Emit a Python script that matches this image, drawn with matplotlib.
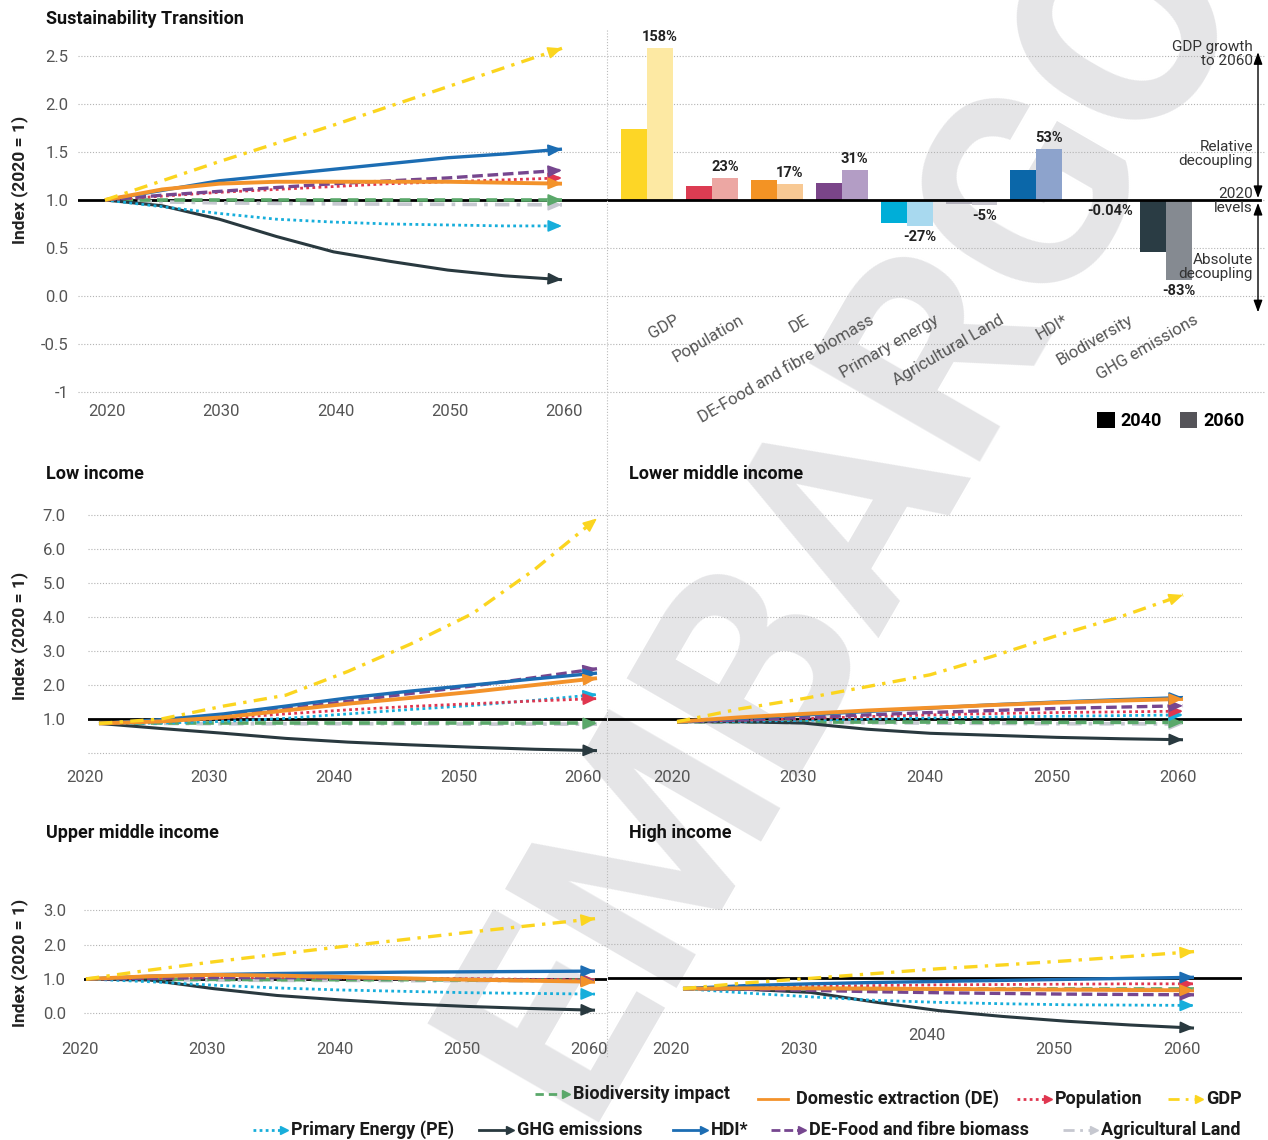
import matplotlib
matplotlib.use("Agg")
import matplotlib.pyplot as plt
from matplotlib.lines import Line2D
from matplotlib.patches import Patch
from matplotlib.transforms import ScaledTranslation, blended_transform_factory

plt.rcParams['font.family'] = ['Roboto', 'DejaVu Sans']

W, H = 1268, 1140

years = [2020, 2025, 2030, 2035, 2040, 2045, 2050, 2055, 2060]
decades = [2020, 2030, 2040, 2050, 2060]

# Sustainability Transition (world)
st_gdp = [1.00, 1.20, 1.40, 1.59, 1.78, 1.98, 2.18, 2.38, 2.58]
st_hdi = [1.00, 1.10, 1.20, 1.26, 1.32, 1.38, 1.44, 1.48, 1.53]
st_de = [1.00, 1.11, 1.17, 1.19, 1.19, 1.19, 1.19, 1.18, 1.17]
st_food = [1.00, 1.05, 1.09, 1.13, 1.17, 1.20, 1.23, 1.27, 1.31]
st_pop = [1.00, 1.04, 1.08, 1.11, 1.14, 1.17, 1.19, 1.21, 1.23]
st_bio = [1.00, 1.00, 1.00, 1.00, 1.00, 1.00, 1.00, 1.00, 1.00]
st_agri = [1.00, 0.98, 0.97, 0.965, 0.96, 0.957, 0.955, 0.952, 0.95]
st_pe = [1.00, 0.93, 0.86, 0.80, 0.77, 0.75, 0.74, 0.73, 0.73]
st_ghg = [1.00, 0.94, 0.80, 0.62, 0.46, 0.36, 0.27, 0.21, 0.17]

# Low income
low_gdp = [0.87, 1.00, 1.38, 1.70, 2.40, 3.20, 4.10, 5.40, 6.90]
low_hdi = [0.87, 0.98, 1.15, 1.38, 1.62, 1.82, 2.00, 2.18, 2.35]
low_de = [0.87, 0.93, 1.05, 1.25, 1.45, 1.62, 1.80, 2.00, 2.20]
low_food = [0.87, 0.95, 1.08, 1.30, 1.52, 1.75, 1.97, 2.22, 2.48]
low_pop = [0.87, 0.92, 1.02, 1.15, 1.27, 1.37, 1.45, 1.53, 1.60]
low_bio = [0.87, 0.87, 0.87, 0.87, 0.87, 0.87, 0.87, 0.87, 0.87]
low_agri = [0.87, 0.87, 0.86, 0.86, 0.86, 0.86, 0.85, 0.85, 0.85]
low_pe = [0.87, 0.88, 0.93, 1.02, 1.15, 1.28, 1.40, 1.55, 1.72]
low_ghg = [0.87, 0.72, 0.58, 0.43, 0.32, 0.24, 0.17, 0.11, 0.07]

# Lower middle income
lmi_gdp = [0.92, 1.30, 1.60, 1.95, 2.30, 2.85, 3.45, 4.00, 4.65]
lmi_hdi = [0.92, 1.02, 1.12, 1.22, 1.32, 1.42, 1.50, 1.57, 1.63]
lmi_de = [0.92, 1.05, 1.15, 1.25, 1.33, 1.41, 1.48, 1.54, 1.59]
lmi_food = [0.92, 0.97, 1.04, 1.12, 1.19, 1.25, 1.31, 1.35, 1.39]
lmi_pop = [0.92, 0.96, 1.01, 1.07, 1.12, 1.16, 1.19, 1.21, 1.23]
lmi_bio = [0.92, 0.92, 0.91, 0.91, 0.91, 0.90, 0.90, 0.90, 0.90]
lmi_agri = [0.92, 0.91, 0.90, 0.89, 0.88, 0.87, 0.86, 0.86, 0.85]
lmi_pe = [0.92, 0.93, 0.96, 1.00, 1.03, 1.06, 1.08, 1.10, 1.12]
lmi_ghg = [0.92, 0.92, 0.88, 0.70, 0.58, 0.52, 0.46, 0.42, 0.39]

# Upper middle income
umi_gdp = [1.00, 1.26, 1.50, 1.72, 1.94, 2.15, 2.36, 2.56, 2.76]
umi_hdi = [1.00, 1.08, 1.13, 1.16, 1.18, 1.20, 1.21, 1.22, 1.23]
umi_de = [1.00, 1.08, 1.12, 1.10, 1.06, 1.02, 0.98, 0.95, 0.92]
umi_food = [1.00, 1.02, 1.04, 1.04, 1.03, 1.01, 0.99, 0.97, 0.95]
umi_pop = [1.00, 1.02, 1.04, 1.04, 1.03, 1.02, 1.01, 0.99, 0.98]
umi_bio = [1.00, 0.99, 0.99, 0.98, 0.98, 0.98, 0.97, 0.97, 0.97]
umi_agri = [1.00, 0.98, 0.97, 0.96, 0.96, 0.95, 0.95, 0.95, 0.95]
umi_pe = [1.00, 0.92, 0.82, 0.74, 0.68, 0.64, 0.60, 0.58, 0.56]
umi_ghg = [1.00, 0.97, 0.72, 0.52, 0.39, 0.28, 0.20, 0.14, 0.09]

# High income
hi_gdp = [0.69, 0.86, 0.99, 1.13, 1.27, 1.38, 1.50, 1.63, 1.77]
hi_hdi = [0.69, 0.78, 0.83, 0.87, 0.90, 0.93, 0.96, 0.99, 1.02]
hi_de = [0.69, 0.70, 0.70, 0.69, 0.68, 0.67, 0.66, 0.65, 0.64]
hi_food = [0.69, 0.67, 0.64, 0.60, 0.57, 0.55, 0.53, 0.52, 0.51]
hi_pop = [0.69, 0.73, 0.76, 0.78, 0.80, 0.81, 0.82, 0.83, 0.83]
hi_bio = [0.69, 0.69, 0.69, 0.69, 0.68, 0.68, 0.68, 0.68, 0.68]
hi_agri = [0.69, 0.69, 0.68, 0.68, 0.68, 0.67, 0.67, 0.67, 0.67]
hi_pe = [0.69, 0.56, 0.45, 0.35, 0.29, 0.25, 0.22, 0.21, 0.20]
hi_ghg = [0.69, 0.67, 0.58, 0.30, 0.05, -0.12, -0.26, -0.37, -0.46]

# bar chart: change relative to 2020
bar_names = ['GDP', 'Population', 'DE', 'DE-Food and fibre biomass', 'Primary energy',
             'Agricultural Land', 'HDI*', 'Biodiversity', 'GHG emissions']
change_2040 = [0.74, 0.15, 0.21, 0.18, -0.24, -0.04, 0.31, -0.0004, -0.54]
change_2060 = [1.58, 0.23, 0.17, 0.31, -0.27, -0.05, 0.53, -0.0004, -0.83]
labels_2060 = ['158%', '23%', '17%', '31%', '-27%', '-5%', '53%', '-0.04%', '-83%']
colors_2040 = ['#fdd626', '#dc3c52', '#f39324', '#7a4589', '#00aed8',
               '#b2b0bb', '#0b67a9', '#4fa85e', '#2a3c44']
colors_2060 = ['#fde9a3', '#eca7a3', '#f8c994', '#b39dc5', '#a8d9ef',
               '#c9c7d0', '#8da3cc', '#a9d3ae', '#858a91']

st_yticks = [2.5, 2.0, 1.5, 1.0, 0.5, 0.0, -0.5, -1.0]
st_ylabels = ['2.5', '2.0', '1.5', '1.0', '0.5', '0.0', '-0.5', '-1']
big_yticks = [0, 1, 2, 3, 4, 5, 6, 7]
big_ylabels = ['', '1.0', '2.0', '3.0', '4.0', '5.0', '6.0', '7.0']
small_yticks = [0, 1, 2, 3]
small_ylabels = ['0.0', '1.0', '2.0', '3.0']

styles = {
    'agri': dict(color='#c6c8d0', lw=2.6, ls=(0, (4, 2, 1, 2))),
    'bio': dict(color='#5aa86a', lw=2.6, ls=(0, (3, 1.8))),
    'ghg': dict(color='#29393f', lw=2.2, ls='-'),
    'pe': dict(color='#17aedb', lw=2.0, ls=(0, (1, 1.2))),
    'pop': dict(color='#e0364f', lw=2.0, ls=(0, (1, 1.2))),
    'food': dict(color='#76468f', lw=2.4, ls=(0, (3.2, 1.4))),
    'hdi': dict(color='#1c6db3', lw=2.4, ls='-'),
    'de': dict(color='#f3922a', lw=2.8, ls='-'),
    'gdp': dict(color='#fbd51f', lw=2.4, ls=(0, (4, 2.2, 1, 2.2))),
}

panel_data = {
    'st': dict(gdp=st_gdp, hdi=st_hdi, de=st_de, food=st_food, pop=st_pop,
               bio=st_bio, agri=st_agri, pe=st_pe, ghg=st_ghg),
    'low': dict(gdp=low_gdp, hdi=low_hdi, de=low_de, food=low_food, pop=low_pop,
                bio=low_bio, agri=low_agri, pe=low_pe, ghg=low_ghg),
    'lmi': dict(gdp=lmi_gdp, hdi=lmi_hdi, de=lmi_de, food=lmi_food, pop=lmi_pop,
                bio=lmi_bio, agri=lmi_agri, pe=lmi_pe, ghg=lmi_ghg),
    'umi': dict(gdp=umi_gdp, hdi=umi_hdi, de=umi_de, food=umi_food, pop=umi_pop,
                bio=umi_bio, agri=umi_agri, pe=umi_pe, ghg=umi_ghg),
    'hi': dict(gdp=hi_gdp, hdi=hi_hdi, de=hi_de, food=hi_food, pop=hi_pop,
               bio=hi_bio, agri=hi_agri, pe=hi_pe, ghg=hi_ghg),
}

fig = plt.figure(figsize=(W / 100, H / 100), dpi=100)
fig.patch.set_facecolor('white')

TICK_C = '#555555'
GRID_C = '#b3b3b3'


def fx(px):
    return px / W


def fy(py):
    return 1 - py / H


def add_px_axes(l, t, r, b):
    ax = fig.add_axes([fx(l), fy(b), (r - l) / W, (b - t) / H])
    ax.patch.set_visible(False)
    for s in ax.spines.values():
        s.set_visible(False)
    ax.tick_params(length=0)
    return ax


def line_panel(key, rect, x2020, x2060, y_one, ppu, yticks, ylabels, ypad,
               lab_dx, lab_dy, raised=None):
    l, t, r, b = rect
    ax = add_px_axes(l, t, r, b)
    ppy = (x2060 - x2020) / 40
    ax.set_xlim(2020 - (x2020 - l) / ppy, 2060 + (r - x2060) / ppy)
    ax.set_ylim(1 - (b - y_one) / ppu, 1 + (y_one - t) / ppu)
    ax.set_xticks([])
    ax.set_yticks(yticks)
    ax.set_yticklabels(ylabels)
    ax.tick_params(axis='y', pad=ypad, labelsize=12, labelcolor=TICK_C)
    ax.grid(axis='y', color=GRID_C, lw=0.8, ls=(0, (1, 1.6)))
    ax.axhline(1, color='black', lw=2.0, zorder=2)

    data = panel_data[key]
    for name in ['agri', 'bio', 'ghg', 'pe', 'pop', 'food', 'hdi', 'de', 'gdp']:
        st = styles[name]
        y = data[name]
        ax.plot(years, y, color=st['color'], lw=st['lw'], ls=st['ls'],
                dash_capstyle='butt', solid_capstyle='butt', zorder=3)
        x0 = years[-1] - 0.2 * (years[-1] - years[-2])
        y0 = y[-1] - 0.2 * (y[-1] - y[-2])
        ax.annotate('', xy=(years[-1], y[-1]), xytext=(x0, y0),
                    arrowprops=dict(arrowstyle='-|>,head_length=0.7,head_width=0.3',
                                    color=st['color'], lw=1.2, shrinkA=0, shrinkB=0,
                                    mutation_scale=12),
                    annotation_clip=False, zorder=4)

    # year labels below the panel
    base = blended_transform_factory(ax.transData, ax.transAxes)
    for yr in decades:
        dy = lab_dy if yr != raised else 0
        tr = base + ScaledTranslation(lab_dx / 100, -dy / 100, fig.dpi_scale_trans)
        ax.text(yr, 0, str(yr), transform=tr, ha='center', va='center',
                fontsize=12, color=TICK_C)
    return ax


ax_st = line_panel('st', (78, 30, 607, 400), 105, 562, 200, 96,
                   st_yticks, st_ylabels, 7, 2, 11)
ax_low = line_panel('low', (88, 495, 607, 763), 99, 597, 719, 34,
                    big_yticks, big_ylabels, 16, -14, 14)
ax_lmi = line_panel('lmi', (608, 495, 1242, 763), 677, 1183, 719, 34,
                    big_yticks, [''] * len(big_yticks), 4, -5, 14)
ax_umi = line_panel('umi', (84, 870, 607, 1035), 86, 595, 979, 34.3,
                    small_yticks, small_ylabels, 13, -6, 14)
ax_hi = line_panel('hi', (608, 870, 1242, 1035), 683, 1194, 978, 34.3,
                   small_yticks, [''] * len(small_yticks), 4, -12, 14, raised=2040)

# ---- bar chart (same vertical scale as the Sustainability Transition panel)
bl, bt, br, bb = 607, 30, 1265, 400
ax_bar = add_px_axes(bl, bt, br, bb)
cat_px = 64.9
ax_bar.set_xlim((bl - 647) / cat_px, (br - 647) / cat_px)
ax_bar.set_ylim(1 - (bb - 200) / 96, 1 + (200 - bt) / 96)
ax_bar.set_xticks([])
ax_bar.set_yticks(st_yticks)
ax_bar.set_yticklabels([])
ax_bar.grid(axis='y', color=GRID_C, lw=0.8, ls=(0, (1, 1.6)))
xs = list(range(len(bar_names)))
ax_bar.bar([x - 0.2 for x in xs], change_2040, width=0.4, bottom=1,
           color=colors_2040, zorder=2)
ax_bar.bar([x + 0.2 for x in xs], change_2060, width=0.4, bottom=1,
           color=colors_2060, zorder=2)
ax_bar.axhline(1, xmin=0, xmax=(1260 - bl) / (br - bl), color='black', lw=2.0, zorder=3)

for x, v, lab in zip(xs, change_2060, labels_2060):
    if v >= 0:
        ax_bar.annotate(lab, (x + 0.2, 1 + v), xytext=(0, 3), textcoords='offset points',
                        ha='center', va='bottom', fontsize=10.5, fontweight='bold',
                        color='#222222')
    else:
        ax_bar.annotate(lab, (x + 0.2, 1 + v), xytext=(-3 if abs(v) < 0.01 else 0, -3),
                        textcoords='offset points', ha='center', va='top',
                        fontsize=10.5, fontweight='bold', color='#222222')

for x, name in zip(xs, bar_names):
    ax_bar.text(x + 0.42, -0.17, name, rotation=30, rotation_mode='anchor',
                ha='right', va='top', fontsize=12, color='#555555')

# decoupling guide on the right
ax_r = (1258 - 647) / cat_px
arrow_kw = dict(arrowstyle='<|-|>,head_length=0.6,head_width=0.22', color='black',
                lw=1.0, shrinkA=0, shrinkB=0, mutation_scale=12)
ax_bar.annotate('', xy=(ax_r, 2.54), xytext=(ax_r, 1.02), arrowprops=arrow_kw,
                annotation_clip=False)
ax_bar.annotate('', xy=(ax_r, 0.97), xytext=(ax_r, -0.17), arrowprops=arrow_kw,
                annotation_clip=False)
tx = (1253 - 647) / cat_px
for txt, yy in [('GDP growth\nto 2060', 2.516), ('Relative\ndecoupling', 1.484),
                ('2020\nlevels', 0.99), ('Absolute\ndecoupling', 0.297)]:
    ax_bar.text(tx, yy, txt, ha='right', va='center', multialignment='right',
                fontsize=11, color='#333333', linespacing=1.0)

ax_bar.legend(handles=[Patch(facecolor='black'), Patch(facecolor='#555459')],
              labels=['2040', '2060'], ncol=2, loc='center right',
              bbox_to_anchor=(fx(1254), fy(421)), bbox_transform=fig.transFigure,
              frameon=False, handlelength=0.95, handleheight=0.95, handletextpad=0.35,
              columnspacing=1.0, borderpad=0, prop=dict(weight='bold', size=13))

# ---- titles and axis labels
for txt, px, py in [('Sustainability Transition', 46, 19), ('Low income', 46, 474),
                    ('Lower middle income', 629, 474), ('Upper middle income', 46, 833),
                    ('High income', 629, 833)]:
    fig.text(fx(px), fy(py), txt, fontsize=13, fontweight='bold', va='center',
             ha='left', color='#111111')

for py in [180, 636, 963]:
    fig.text(fx(20), fy(py), 'Index (2020 = 1)', rotation=90, ha='center', va='center',
             fontsize=12.5, fontweight='bold', color='#222222')

# vertical separator between the two columns
fig.add_artist(Line2D([fx(607), fx(607)], [fy(30), fy(1058)], color='#bbbbbb',
                      lw=0.8, ls=(0, (1, 1.6)), transform=fig.transFigure))

# ---- legend at the bottom
legend_items = [
    (535, 1094, 'bio', 'Biodiversity impact', True),
    (758, 1099, 'de', 'Domestic extraction (DE)', False),
    (1017, 1099, 'pop', 'Population', True),
    (1168, 1099, 'gdp', 'GDP', True),
    (253, 1130, 'pe', 'Primary Energy (PE)', True),
    (479, 1130, 'ghg', 'GHG emissions', True),
    (673, 1130, 'hdi', 'HDI*', True),
    (771, 1130, 'food', 'DE-Food and fibre biomass', True),
    (1063, 1130, 'agri', 'Agricultural Land', True),
]
for x0, y0, name, txt, arrow in legend_items:
    st = styles[name]
    x1 = x0 + 30
    fig.add_artist(Line2D([fx(x0), fx(x1)], [fy(y0), fy(y0)], color=st['color'],
                          lw=2.0, ls=st['ls'], transform=fig.transFigure))
    if arrow:
        fig.add_artist(Line2D([fx(x1 + 1)], [fy(y0)], marker='>', markersize=6,
                              color=st['color'], lw=0, transform=fig.transFigure))
    fig.text(fx(x0 + 38), fy(y0), txt, fontsize=13, fontweight='bold',
             color='#1a1a1a', va='center', ha='left')

# watermark
fig.text(fx(846), fy(512), 'EMBARGO', rotation=60, rotation_mode='anchor',
         fontsize=200, fontweight='bold', color='#e5e5e7', ha='center', va='center',
         zorder=-5)

fig.savefig('out.png', dpi=100, facecolor='white')
